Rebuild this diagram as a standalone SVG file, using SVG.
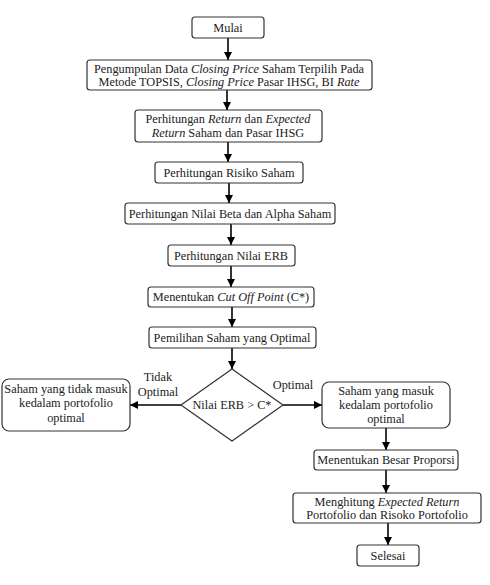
<svg xmlns="http://www.w3.org/2000/svg" width="490" height="585" viewBox="0 0 490 585">
<defs>
<marker id="ah" viewBox="0 0 10 10" refX="10" refY="5" markerWidth="8" markerHeight="8" markerUnits="userSpaceOnUse" orient="auto">
<path d="M0,0 L10,5 L0,10 z" fill="#000"/>
</marker>
<style>
.box{fill:#fff;stroke:#333;stroke-width:1.2}
text{font-family:"Liberation Serif","Times New Roman",serif;font-size:12.3px;fill:#222;text-anchor:middle}
.c{stroke:#000;stroke-width:1.6;fill:none;marker-end:url(#ah)}
</style>
</defs>
<rect width="490" height="585" fill="#fff"/>
<g id="connectors">
<line class="c" x1="228" y1="38" x2="228" y2="60"/>
<line class="c" x1="227" y1="90" x2="227" y2="110"/>
<line class="c" x1="228" y1="142" x2="228" y2="162"/>
<line class="c" x1="229" y1="183" x2="229" y2="203"/>
<line class="c" x1="231" y1="224" x2="231" y2="245"/>
<line class="c" x1="231" y1="266" x2="231" y2="287"/>
<line class="c" x1="232" y1="307" x2="232" y2="327"/>
<line class="c" x1="232" y1="348" x2="232" y2="369"/>
<line class="c" x1="181" y1="405" x2="130" y2="405"/>
<line class="c" x1="283" y1="405" x2="322" y2="405"/>
<line class="c" x1="386" y1="428" x2="386" y2="450"/>
<line class="c" x1="386" y1="470" x2="386" y2="493"/>
<line class="c" x1="388" y1="523" x2="388" y2="545"/>
<text x="158" y="381">Tidak</text>
<text x="158" y="396">Optimal</text>
<text x="293" y="389">Optimal</text>
</g>
<g id="mulai">
<rect class="box" x="192" y="17" width="72" height="21" rx="3"/>
<text x="228" y="32">Mulai</text>
</g>
<g id="pengumpulan">
<rect class="box" x="87" y="60" width="285" height="30" rx="3"/>
<text x="229" y="73">Pengumpulan Data <tspan font-style="italic">Closing Price</tspan> Saham Terpilih Pada</text>
<text x="229" y="86">Metode TOPSIS, <tspan font-style="italic">Closing Price</tspan> Pasar IHSG, BI <tspan font-style="italic">Rate</tspan></text>
</g>
<g id="return">
<rect class="box" x="135" y="110" width="187" height="32" rx="3"/>
<text x="228" y="123">Perhitungan <tspan font-style="italic">Return</tspan> dan <tspan font-style="italic">Expected</tspan></text>
<text x="228" y="137"><tspan font-style="italic">Return</tspan> Saham dan Pasar IHSG</text>
</g>
<g id="risiko">
<rect class="box" x="155" y="162" width="148" height="21" rx="3"/>
<text x="229" y="177">Perhitungan Risiko Saham</text>
</g>
<g id="beta">
<rect class="box" x="125" y="203" width="210" height="21" rx="3"/>
<text x="230" y="218">Perhitungan Nilai Beta dan Alpha Saham</text>
</g>
<g id="erb">
<rect class="box" x="168" y="245" width="127" height="21" rx="3"/>
<text x="231" y="260">Perhitungan Nilai ERB</text>
</g>
<g id="cutoff">
<rect class="box" x="148" y="287" width="166" height="20" rx="3"/>
<text x="231" y="301">Menentukan <tspan font-style="italic">Cut Off Point</tspan> (C*)</text>
</g>
<g id="pemilihan">
<rect class="box" x="149" y="327" width="167" height="21" rx="3"/>
<text x="232" y="342">Pemilihan Saham yang Optimal</text>
</g>
<g id="decision">
<polygon class="box" points="232,369 283,405 232,441 181,405"/>
<text x="232" y="409">Nilai ERB &gt; C*</text>
</g>
<g id="tidak">
<rect class="box" x="2" y="379" width="128" height="52" rx="7"/>
<text x="66" y="393">Saham yang tidak masuk</text>
<text x="66" y="407">kedalam portofolio</text>
<text x="66" y="422">optimal</text>
</g>
<g id="masuk">
<rect class="box" x="322" y="382" width="128" height="46" rx="7"/>
<text x="386" y="395">Saham yang masuk</text>
<text x="386" y="409">kedalam portofolio</text>
<text x="386" y="423">optimal</text>
</g>
<g id="proporsi">
<rect class="box" x="314" y="450" width="144" height="20" rx="3"/>
<text x="386" y="464">Menentukan Besar Proporsi</text>
</g>
<g id="menghitung">
<rect class="box" x="293" y="493" width="188" height="30" rx="3"/>
<text x="387" y="506">Menghitung <tspan font-style="italic">Expected Return</tspan></text>
<text x="387" y="519">Portofolio dan Risoko Portofolio</text>
</g>
<g id="selesai">
<rect class="box" x="357" y="545" width="62" height="21" rx="3"/>
<text x="388" y="560">Selesai</text>
</g>
</svg>
